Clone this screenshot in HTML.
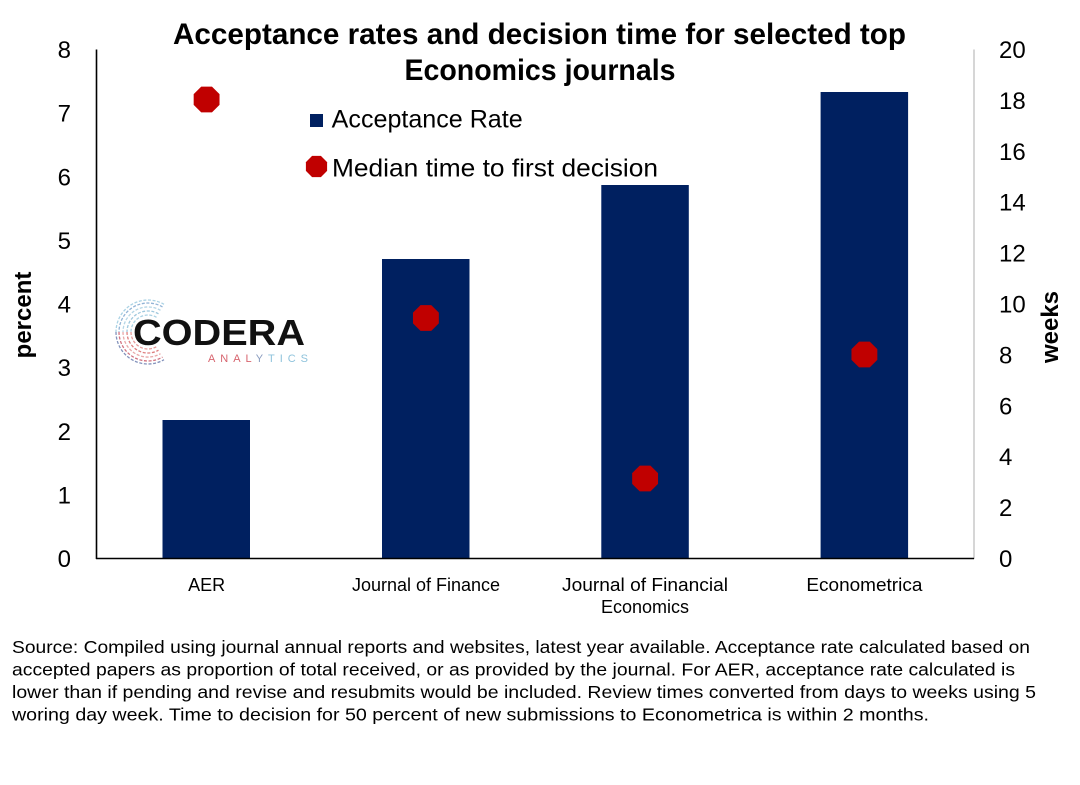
<!DOCTYPE html>
<html>
<head>
<meta charset="utf-8">
<style>
  html,body{margin:0;padding:0;background:#fff;}
  svg{display:block;}
  text{font-family:"Liberation Sans", Arial, sans-serif;}
</style>
</head>
<body>
<svg width="1080" height="785" viewBox="0 0 1080 785" xmlns="http://www.w3.org/2000/svg">
  <rect x="0" y="0" width="1080" height="785" fill="#ffffff"/>

  <!-- Title -->
  <text x="539.5" y="44" text-anchor="middle" font-size="30" font-weight="bold" fill="#000" textLength="733" lengthAdjust="spacingAndGlyphs">Acceptance rates and decision time for selected top</text>
  <text x="540" y="80" text-anchor="middle" font-size="30" font-weight="bold" fill="#000" textLength="271" lengthAdjust="spacingAndGlyphs">Economics journals</text>

  <!-- Logo -->
  <g fill="none" stroke-width="1.3" stroke-dasharray="3 1.6" opacity="0.85">
    <!-- top arcs blue -->
    <path d="M 156.5 317.3 A 17 17 0 0 0 131 332" stroke="#9ccbe0"/>
    <path d="M 158.5 313.8 A 21 21 0 0 0 127 332" stroke="#8fbfd8"/>
    <path d="M 160.5 310.3 A 25 25 0 0 0 123 332" stroke="#a9cfe2"/>
    <path d="M 162.5 306.9 A 29 29 0 0 0 119 332" stroke="#7fa7cf"/>
    <path d="M 164.0 304.3 A 32 32 0 0 0 116 332" stroke="#9ccbe0"/>
    <!-- bottom arcs red -->
    <path d="M 131 332 A 17 17 0 0 0 156.5 346.7" stroke="#e28a8a"/>
    <path d="M 127 332 A 21 21 0 0 0 158.5 350.2" stroke="#d96a6a"/>
    <path d="M 123 332 A 25 25 0 0 0 160.5 353.7" stroke="#e59a9a"/>
    <path d="M 119 332 A 29 29 0 0 0 162.5 357.1" stroke="#c95a6a"/>
    <path d="M 116 332 A 32 32 0 0 0 164.0 359.7" stroke="#6d7fb0"/>
  </g>
  <text x="133" y="345" font-size="36" font-weight="bold" fill="#111" textLength="172" lengthAdjust="spacingAndGlyphs">CODERA</text>
  <text x="208" y="362" font-size="11" textLength="100" lengthAdjust="spacing"><tspan fill="#d7646e">ANAL</tspan><tspan fill="#8a9cbf">Y</tspan><tspan fill="#8fc3dc">TICS</tspan></text>

  <!-- Bars -->
  <g fill="#002060">
    <rect x="162.5" y="420" width="87.5" height="138.5"/>
    <rect x="382" y="259" width="87.5" height="299.5"/>
    <rect x="601.3" y="185" width="87.5" height="373.5"/>
    <rect x="820.6" y="92" width="87.5" height="466.5"/>
  </g>

  <!-- Axes -->
  <line x1="974" y1="49.5" x2="974" y2="559" stroke="#c8c8c8" stroke-width="1.5"/>
  <line x1="96.5" y1="49.5" x2="96.5" y2="559" stroke="#000" stroke-width="1.6"/>
  <line x1="96" y1="558.5" x2="974" y2="558.5" stroke="#000" stroke-width="1.6"/>

  <!-- Dots -->
  <g fill="#c00000">
    <polygon transform="translate(206.6,99.5)" points="-5.36,-12.93 5.36,-12.93 12.93,-5.36 12.93,5.36 5.36,12.93 -5.36,12.93 -12.93,5.36 -12.93,-5.36"/>
    <polygon transform="translate(425.9,318)" points="-5.36,-12.93 5.36,-12.93 12.93,-5.36 12.93,5.36 5.36,12.93 -5.36,12.93 -12.93,5.36 -12.93,-5.36"/>
    <polygon transform="translate(645.1,478.5)" points="-5.36,-12.93 5.36,-12.93 12.93,-5.36 12.93,5.36 5.36,12.93 -5.36,12.93 -12.93,5.36 -12.93,-5.36"/>
    <polygon transform="translate(864.4,354.5)" points="-5.36,-12.93 5.36,-12.93 12.93,-5.36 12.93,5.36 5.36,12.93 -5.36,12.93 -12.93,5.36 -12.93,-5.36"/>
  </g>

  <!-- Legend -->
  <rect x="310" y="114" width="13" height="13" fill="#002060"/>
  <text x="331.7" y="127.5" font-size="25" fill="#000" textLength="191" lengthAdjust="spacingAndGlyphs">Acceptance Rate</text>
  <polygon transform="translate(316.5,166.5)" fill="#c00000" points="-4.4,-10.6 4.4,-10.6 10.6,-4.4 10.6,4.4 4.4,10.6 -4.4,10.6 -10.6,4.4 -10.6,-4.4"/>
  <text x="332" y="176.5" font-size="25" fill="#000" textLength="326" lengthAdjust="spacingAndGlyphs">Median time to first decision</text>

  <!-- Left tick labels -->
  <g font-size="24" fill="#000" text-anchor="end">
    <text x="71" y="567">0</text>
    <text x="71" y="503.4">1</text>
    <text x="71" y="439.8">2</text>
    <text x="71" y="376.1">3</text>
    <text x="71" y="312.5">4</text>
    <text x="71" y="248.9">5</text>
    <text x="71" y="185.3">6</text>
    <text x="71" y="121.6">7</text>
    <text x="71" y="58">8</text>
  </g>

  <!-- Right tick labels -->
  <g font-size="24" fill="#000" text-anchor="start">
    <text x="999" y="567">0</text>
    <text x="999" y="516.1">2</text>
    <text x="999" y="465.2">4</text>
    <text x="999" y="414.3">6</text>
    <text x="999" y="363.4">8</text>
    <text x="999" y="312.5">10</text>
    <text x="999" y="261.6">12</text>
    <text x="999" y="210.7">14</text>
    <text x="999" y="159.8">16</text>
    <text x="999" y="108.9">18</text>
    <text x="999" y="58">20</text>
  </g>

  <!-- Axis titles -->
  <text transform="translate(31,315) rotate(-90)" text-anchor="middle" font-size="24" font-weight="bold" fill="#000">percent</text>
  <text transform="translate(1058,327) rotate(-90)" text-anchor="middle" font-size="24" font-weight="bold" fill="#000">weeks</text>

  <!-- Category labels -->
  <g font-size="18" fill="#000" text-anchor="middle">
    <text x="206.6" y="591">AER</text>
    <text x="426" y="591">Journal of Finance</text>
    <text x="645" y="591" textLength="166" lengthAdjust="spacingAndGlyphs">Journal of Financial</text>
    <text x="645" y="613">Economics</text>
    <text x="864.4" y="591" textLength="116" lengthAdjust="spacingAndGlyphs">Econometrica</text>
  </g>

  <!-- Footnote -->
  <g font-size="17.5" fill="#000">
    <text x="12" y="653" textLength="1018" lengthAdjust="spacingAndGlyphs">Source: Compiled using journal annual reports and websites, latest year available. Acceptance rate calculated based on</text>
    <text x="12" y="675.5" textLength="1003" lengthAdjust="spacingAndGlyphs">accepted papers as proportion of total received, or as provided by the journal. For AER, acceptance rate calculated is</text>
    <text x="12" y="698" textLength="1024" lengthAdjust="spacingAndGlyphs">lower than if pending and revise and resubmits would be included. Review times converted from days to weeks using 5</text>
    <text x="12" y="720.5" textLength="917" lengthAdjust="spacingAndGlyphs">woring day week. Time to decision for 50 percent of new submissions to Econometrica is within 2 months.</text>
  </g>
</svg>
</body>
</html>
